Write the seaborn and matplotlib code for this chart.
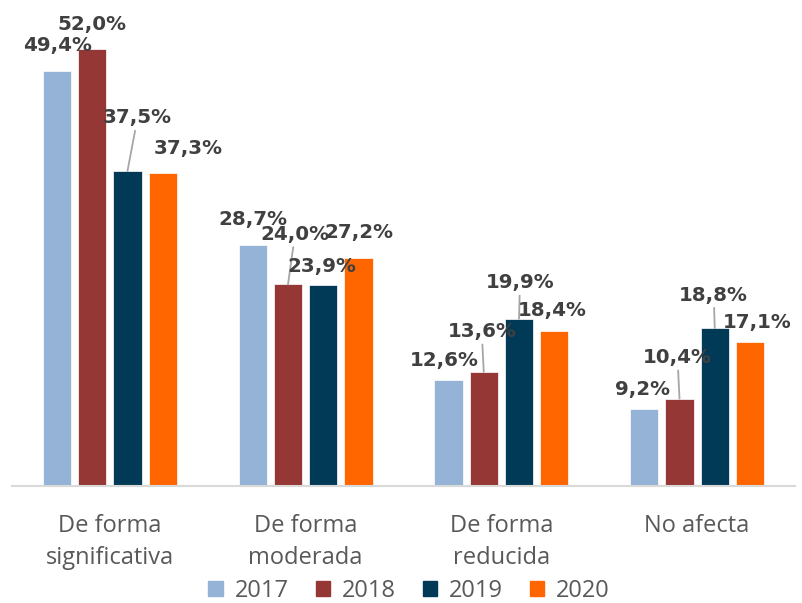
import matplotlib
matplotlib.use("Agg")
import matplotlib.pyplot as plt
import matplotlib.patches as mpatches
import seaborn as sns
import pandas as pd

categories = ["De forma\nsignificativa", "De forma\nmoderada", "De forma\nreducida", "No afecta"]
years = ["2017", "2018", "2019", "2020"]
v2017 = [49.4, 28.7, 12.6, 9.2]
v2018 = [52.0, 24.0, 13.6, 10.4]
v2019 = [37.5, 23.9, 19.9, 18.8]
v2020 = [37.3, 27.2, 18.4, 17.1]
colors = ["#95B3D7", "#953735", "#003A57", "#FF6600"]

# label offsets (pixels) relative to bar top centre, and whether a leader line is drawn
offsets = {
    "2017": [(0, 26, False), (0, 25, False), (-4, 20, False), (-2, 19, False)],
    "2018": [(0, 25, False), (7, 50, True), (-2, 40, True), (-2, 41, True)],
    "2019": [(10, 53, True), (-1, 19, False), (1, 36, True), (-1, 33, True)],
    "2020": [(25, 24, False), (0, 25, False), (-2, 21, False), (7, 20, False)],
}

series = {"2017": v2017, "2018": v2018, "2019": v2019, "2020": v2020}
rows = []
for y, vals in series.items():
    for c, v in zip(categories, vals):
        rows.append({"cat": c, "year": y, "val": v})
df = pd.DataFrame(rows)

sns.set_theme(style="white")
plt.rcParams["font.family"] = ["Open Sans", "DejaVu Sans"]

fig = plt.figure(figsize=(8.02, 6.03), dpi=100)
ax = fig.add_axes([12 / 802, (603 - 486) / 603, (795 - 12) / 802, 486 / 603])

sns.barplot(data=df, x="cat", y="val", hue="year", order=categories, hue_order=years,
            palette=colors, width=0.72, gap=0.2, ax=ax, legend=False,
            edgecolor="white", linewidth=0.5, saturation=1)

ax.set_ylim(0, 486 / 8.4)
ax.set_xlim(-0.5, 3.5)
ax.set_xlabel("")
ax.set_ylabel("")
ax.set_yticks([])
for s in ["top", "left", "right"]:
    ax.spines[s].set_visible(False)
ax.spines["bottom"].set_color("#D9D9D9")
ax.spines["bottom"].set_linewidth(1.5)
ax.tick_params(axis="x", length=0, pad=20, labelsize=17, labelcolor="#595959")
for t in ax.get_xticklabels():
    t.set_linespacing(1.45)

for cont, yr in zip(ax.containers, years):
    for bar, val, (dx, dy, lead) in zip(cont, series[yr], offsets[yr]):
        x = bar.get_x() + bar.get_width() / 2
        top = bar.get_height()
        txt = f"{val:.1f}%".replace(".", ",")
        kw = {}
        if lead:
            kw["arrowprops"] = dict(arrowstyle="-", color="#A6A6A6", lw=1.3,
                                    shrinkA=0, shrinkB=0)
        ax.annotate(txt, xy=(x, top), xytext=(dx, dy), textcoords="offset pixels",
                    ha="center", va="center", fontsize=14.3, fontweight="bold",
                    color="#404040", family="DejaVu Sans", annotation_clip=False, **kw)

handles = [mpatches.Patch(color=c, label=y) for c, y in zip(colors, years)]
leg = fig.legend(handles=handles, loc="lower center", bbox_to_anchor=(0.51, -0.035),
                 ncol=4, frameon=False, fontsize=17, handlelength=0.6, handleheight=0.6,
                 handletextpad=0.5, columnspacing=1.15)
for t in leg.get_texts():
    t.set_color("#595959")

fig.savefig("out.png", dpi=100)
